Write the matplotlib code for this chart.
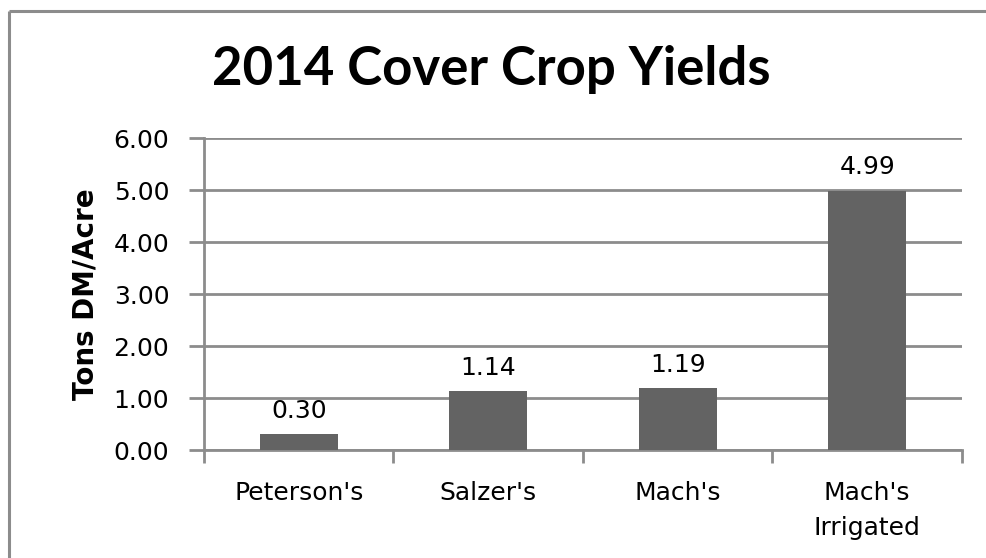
import numpy as np
import matplotlib.pyplot as plt
from matplotlib.lines import Line2D

farms = ["Peterson's", "Salzer's", "Mach's", "Mach's\nIrrigated"]
yields = [0.30, 1.14, 1.19, 4.99]
yticks = [0, 1, 2, 3, 4, 5, 6]

plt.rcParams['font.family'] = ['DejaVu Sans']
grey = '#8c8c8c'
bar_color = '#636363'
fs = 18

fig = plt.figure(figsize=(9.87, 5.58), dpi=100)
ax = fig.add_axes([204 / 987, 1 - 450 / 558, 758 / 987, 312 / 558])

# outer chart border, only top and left edges are inside the picture
top, left = 1 - 10.5 / 558, 9 / 987
fig.lines.append(Line2D([left, 1.0], [top, top], transform=fig.transFigure,
                        color=grey, linewidth=2.2, solid_capstyle='butt'))
fig.lines.append(Line2D([left, left], [0.0, top], transform=fig.transFigure,
                        color=grey, linewidth=2.2, solid_capstyle='butt'))

index = np.arange(len(farms))
ax.bar(index, yields, width=0.41, color=bar_color, zorder=3)
for x, y in zip(index, yields):
    ax.annotate(f'{y:.2f}', (x, y), xytext=(0, 8), textcoords='offset points',
                ha='center', va='bottom', fontsize=fs)

ax.set_xlim(-0.5, len(farms) - 0.5)
ax.set_ylim(0, 6)
ax.set_yticks(yticks)
ax.set_yticklabels([f'{t:.2f}' for t in yticks], fontsize=fs)
ax.set_xticks(index)
ax.set_xticklabels(farms, fontsize=fs, linespacing=1.6)
ax.set_xticks(np.arange(-0.5, len(farms)), minor=True)
ax.tick_params(axis='x', which='major', length=0, pad=22)
ax.tick_params(axis='x', which='minor', length=9, color=grey, width=2)
ax.tick_params(axis='y', length=11, color=grey, width=2, pad=14)
ax.grid(axis='y', color=grey, linewidth=2, zorder=0)

for side in ['top', 'right']:
    ax.spines[side].set_visible(False)
for side in ['left', 'bottom']:
    ax.spines[side].set_color(grey)
    ax.spines[side].set_linewidth(2)

ax.set_ylabel('Tons DM/Acre', fontsize=20, fontweight='bold', labelpad=10)
fig.text(491 / 987, 1 - 85 / 558, '2014 Cover Crop Yields', ha='center',
         va='baseline', fontsize=38, fontweight='bold', family=['Lato'])

plt.savefig('out.png', dpi=100)
